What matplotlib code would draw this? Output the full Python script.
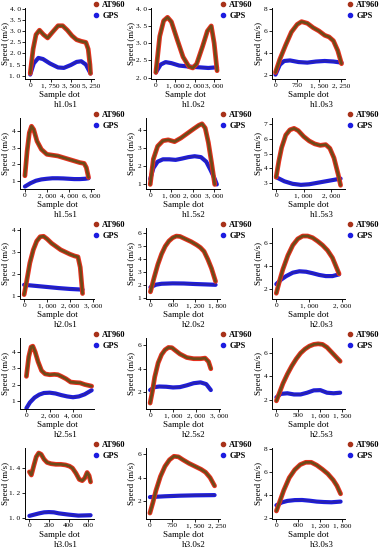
import matplotlib
matplotlib.use("Agg")
import matplotlib.pyplot as plt
from matplotlib.lines import Line2D
from matplotlib.ticker import FuncFormatter

plt.rcParams['font.family'] = ['Liberation Serif', 'DejaVu Serif']

# ---- data (x = sample dot, y = speed m/s) ----
titles = ["h1.0s1", "h1.0s2", "h1.0s3",
          "h1.5s1", "h1.5s2", "h1.5s3",
          "h2.0s1", "h2.0s2", "h2.0s3",
          "h2.5s1", "h2.5s2", "h2.5s3",
          "h3.0s1", "h3.0s2", "h3.0s3"]

at_x_h10s1 = [0, 250, 500, 800, 1150, 1500, 1900, 2400, 2800, 3200, 3600, 4000, 4400, 4800, 5000, 5150, 5200]
at_y_h10s1 = [1.1, 2.2, 2.85, 3.05, 2.85, 2.7, 2.95, 3.25, 3.25, 3.05, 2.8, 2.62, 2.55, 2.5, 2.2, 1.5, 1.1]
gps_x_h10s1 = [0, 300, 700, 1100, 1700, 2400, 2900, 3500, 4000, 4400, 4800, 5200]
gps_y_h10s1 = [1.05, 1.55, 1.8, 1.75, 1.55, 1.37, 1.35, 1.48, 1.62, 1.65, 1.5, 1.1]

at_x_h10s2 = [0, 200, 400, 600, 800, 1100, 1400, 1700, 1900, 2100, 2400, 2650, 2850, 3000, 3150]
at_y_h10s2 = [2.15, 3.2, 3.65, 3.75, 3.62, 3.1, 2.6, 2.32, 2.28, 2.4, 2.9, 3.35, 3.5, 3.0, 2.2]
gps_x_h10s2 = [0, 250, 500, 800, 1200, 1700, 2200, 2700, 3150]
gps_y_h10s2 = [2.15, 2.38, 2.45, 2.42, 2.35, 2.32, 2.3, 2.28, 2.3]

at_x_h10s3 = [0, 150, 350, 550, 750, 900, 1100, 1300, 1500, 1700, 1850, 2000, 2150, 2280]
at_y_h10s3 = [2.2, 3.4, 4.7, 5.9, 6.6, 6.85, 6.7, 6.3, 6.0, 5.6, 5.45, 5.1, 4.2, 3.0]
gps_x_h10s3 = [0, 150, 300, 500, 800, 1100, 1400, 1700, 2000, 2280]
gps_y_h10s3 = [2.0, 2.9, 3.25, 3.3, 3.15, 3.1, 3.2, 3.25, 3.2, 3.1]

at_x_h15s1 = [0, 200, 400, 600, 800, 1100, 1500, 2000, 2500, 3000, 3500, 4000, 4500, 5000, 5400, 5600, 5800]
at_y_h15s1 = [1.3, 2.8, 3.9, 4.3, 4.1, 3.4, 2.9, 2.6, 2.55, 2.5, 2.4, 2.3, 2.2, 2.1, 2.05, 1.8, 1.2]
gps_x_h15s1 = [0, 500, 1000, 1500, 2000, 2500, 3000, 3500, 4000, 4500, 5000, 5500, 5800]
gps_y_h15s1 = [0.65, 0.85, 1.0, 1.08, 1.12, 1.15, 1.15, 1.14, 1.12, 1.1, 1.1, 1.12, 1.15]

at_x_h15s2 = [0, 150, 350, 600, 850, 1150, 1450, 1750, 2050, 2300, 2450, 2600, 2750, 2900, 3050]
at_y_h15s2 = [1.0, 2.4, 3.1, 3.4, 3.45, 3.35, 3.55, 3.8, 4.05, 4.25, 4.33, 4.1, 3.3, 2.2, 1.0]
gps_x_h15s2 = [0, 150, 350, 600, 900, 1200, 1500, 1800, 2100, 2400, 2650, 2850, 3050, 3150]
gps_y_h15s2 = [1.3, 1.9, 2.25, 2.38, 2.38, 2.35, 2.42, 2.5, 2.55, 2.5, 2.25, 1.8, 1.3, 1.0]

at_x_h15s3 = [0, 100, 200, 350, 500, 650, 800, 1000, 1200, 1400, 1600, 1800, 1950, 2100, 2250, 2340]
at_y_h15s3 = [3.4, 4.5, 5.4, 6.25, 6.6, 6.7, 6.55, 6.15, 5.85, 5.65, 5.55, 5.6, 5.35, 4.7, 3.6, 2.85]
gps_x_h15s3 = [0, 300, 600, 900, 1200, 1500, 1800, 2100, 2340]
gps_y_h15s3 = [3.4, 3.12, 2.95, 2.88, 2.92, 3.02, 3.12, 3.22, 3.3]

at_x_h20s1 = [0, 100, 250, 400, 550, 700, 850, 1000, 1200, 1400, 1600, 1800, 2000, 2200, 2350, 2450, 2550]
at_y_h20s1 = [1.05, 1.6, 2.5, 3.1, 3.5, 3.7, 3.72, 3.6, 3.4, 3.25, 3.1, 3.0, 2.9, 2.82, 2.78, 2.3, 1.1]
gps_x_h20s1 = [0, 500, 1000, 1500, 2000, 2550]
gps_y_h20s1 = [1.5, 1.45, 1.4, 1.35, 1.31, 1.28]

at_x_h20s2 = [0, 100, 200, 300, 400, 500, 600, 700, 800, 950, 1100, 1250, 1350, 1450, 1550, 1650, 1760]
at_y_h20s2 = [1.5, 2.6, 3.6, 4.4, 5.0, 5.4, 5.65, 5.78, 5.75, 5.55, 5.35, 5.1, 4.9, 4.6, 4.0, 3.3, 2.3]
gps_x_h20s2 = [0, 150, 300, 600, 900, 1200, 1500, 1760]
gps_y_h20s2 = [1.85, 2.05, 2.12, 2.15, 2.14, 2.1, 2.07, 2.04]

at_x_h20s3 = [0, 100, 200, 350, 500, 650, 800, 950, 1100, 1250, 1400, 1550, 1700, 1800, 1900]
at_y_h20s3 = [1.6, 2.7, 3.7, 4.9, 5.8, 6.35, 6.6, 6.6, 6.45, 6.15, 5.8, 5.35, 4.7, 4.0, 3.3]
gps_x_h20s3 = [0, 150, 300, 500, 700, 900, 1100, 1300, 1500, 1700, 1900]
gps_y_h20s3 = [2.4, 2.8, 3.1, 3.4, 3.52, 3.48, 3.35, 3.2, 3.1, 3.1, 3.25]

at_x_h25s1 = [0, 200, 400, 550, 750, 1000, 1300, 1600, 2000, 2400, 2700, 3000, 3400, 3800, 4200, 4600, 5000, 5300, 5600]
at_y_h25s1 = [2.5, 3.7, 4.3, 4.35, 4.0, 3.4, 2.85, 2.65, 2.6, 2.62, 2.6, 2.5, 2.35, 2.15, 2.12, 2.1, 2.0, 1.95, 1.9]
gps_x_h25s1 = [0, 300, 700, 1100, 1500, 2000, 2500, 3000, 3500, 4000, 4500, 5000, 5600]
gps_y_h25s1 = [0.55, 0.9, 1.2, 1.38, 1.48, 1.5, 1.45, 1.35, 1.27, 1.22, 1.27, 1.4, 1.65]

at_x_h25s2 = [0, 100, 200, 350, 500, 650, 800, 950, 1100, 1300, 1600, 1900, 2200, 2400, 2550, 2650]
at_y_h25s2 = [1.1, 2.1, 3.3, 4.5, 5.2, 5.6, 5.8, 5.78, 5.55, 5.25, 4.95, 4.85, 4.85, 4.9, 4.6, 4.0]
gps_x_h25s2 = [0, 200, 400, 700, 1000, 1300, 1600, 1900, 2200, 2450, 2650]
gps_y_h25s2 = [2.2, 2.45, 2.5, 2.48, 2.42, 2.45, 2.6, 2.78, 2.85, 2.7, 2.2]

at_x_h25s3 = [0, 50, 150, 250, 350, 450, 550, 650, 750, 850, 950, 1050, 1150, 1250, 1350, 1450]
at_y_h25s3 = [1.9, 2.4, 3.4, 4.2, 4.9, 5.5, 6.0, 6.35, 6.6, 6.75, 6.8, 6.75, 6.5, 6.1, 5.7, 5.3]
gps_x_h25s3 = [0, 100, 250, 400, 550, 700, 850, 1000, 1150, 1300, 1450]
gps_y_h25s3 = [2.2, 2.5, 2.55, 2.45, 2.45, 2.6, 2.8, 2.82, 2.6, 2.55, 2.6]

at_x_h30s1 = [0, 20, 45, 70, 95, 120, 150, 180, 220, 270, 320, 370, 410, 440, 475, 510, 540, 565, 590, 610, 625]
at_y_h30s1 = [1.37, 1.345, 1.42, 1.49, 1.52, 1.51, 1.47, 1.445, 1.435, 1.43, 1.43, 1.425, 1.415, 1.4, 1.36, 1.31, 1.3, 1.32, 1.365, 1.34, 1.29]
gps_x_h30s1 = [0, 50, 100, 150, 200, 250, 300, 400, 500, 625]
gps_y_h30s1 = [1.02, 1.03, 1.04, 1.048, 1.05, 1.048, 1.04, 1.03, 1.022, 1.025]

at_x_h30s2 = [0, 100, 200, 350, 500, 650, 800, 950, 1100, 1300, 1500, 1700, 1850, 2000, 2150]
at_y_h30s2 = [1.0, 1.9, 2.9, 4.1, 4.95, 5.5, 5.8, 5.75, 5.5, 5.2, 4.95, 4.7, 4.45, 4.0, 3.3]
gps_x_h30s2 = [0, 500, 1000, 1500, 2150]
gps_y_h30s2 = [2.35, 2.42, 2.47, 2.5, 2.52]

at_x_h30s3 = [0, 100, 200, 350, 500, 650, 800, 950, 1100, 1250, 1400, 1550, 1650, 1750]
at_y_h30s3 = [2.6, 3.5, 4.4, 5.5, 6.2, 6.65, 6.85, 6.85, 6.6, 6.25, 5.85, 5.3, 4.8, 4.1]
gps_x_h30s3 = [0, 150, 300, 500, 700, 900, 1100, 1300, 1500, 1750]
gps_y_h30s3 = [3.1, 3.35, 3.48, 3.55, 3.56, 3.5, 3.42, 3.38, 3.36, 3.42]

x_ticks = [[0, 1750, 3500, 5250], [0, 1000, 2000, 3000], [0, 750, 1500, 2250],
           [0, 2000, 4000, 6000], [0, 1000, 2000, 3000], [0, 1000, 2000],
           [0, 1000, 2000, 3000], [0, 600, 1200, 1800], [0, 1000, 2000],
           [0, 2000, 4000], [0, 1000, 2000, 3000], [0, 500, 1000, 1500],
           [0, 200, 400, 600], [0, 750, 1500, 2250], [0, 600, 1200, 1800]]
y_ticks = [[1.0, 1.5, 2.0, 2.5, 3.0, 3.5, 4.0], [2.0, 2.5, 3.0, 3.5, 4.0], [2, 4, 6, 8],
           [1, 2, 3, 4], [1, 2, 3, 4], [3, 4, 5, 6, 7],
           [1, 2, 3, 4], [1, 2, 3, 4, 5, 6], [2, 4, 6],
           [1, 2, 3, 4], [2, 4, 6], [2, 4, 6],
           [1.0, 1.2, 1.4], [2, 4, 6], [2, 4, 6, 8]]
x_lims = [(-450, 5500), (-250, 3300), (-120, 2400),
          (-450, 6300), (-200, 3300), (-150, 2500),
          (-180, 3050), (-120, 1880), (-130, 2080),
          (-550, 5800), (-180, 3050), (-100, 1560),
          (-45, 660), (-130, 2330), (-120, 1870)]
y_lims = [(0.85, 4.05), (1.96, 4.02), (1.6, 8.1),
          (0.5, 4.8), (0.75, 4.65), (2.6, 7.4),
          (0.85, 4.1), (0.95, 6.4), (1.1, 7.3),
          (0.5, 4.85), (0.6, 6.6), (1.2, 7.3),
          (0.995, 1.56), (0.5, 6.5), (1.9, 8.1)]

at_x = [at_x_h10s1, at_x_h10s2, at_x_h10s3, at_x_h15s1, at_x_h15s2, at_x_h15s3,
        at_x_h20s1, at_x_h20s2, at_x_h20s3, at_x_h25s1, at_x_h25s2, at_x_h25s3,
        at_x_h30s1, at_x_h30s2, at_x_h30s3]
at_y = [at_y_h10s1, at_y_h10s2, at_y_h10s3, at_y_h15s1, at_y_h15s2, at_y_h15s3,
        at_y_h20s1, at_y_h20s2, at_y_h20s3, at_y_h25s1, at_y_h25s2, at_y_h25s3,
        at_y_h30s1, at_y_h30s2, at_y_h30s3]
gps_x = [gps_x_h10s1, gps_x_h10s2, gps_x_h10s3, gps_x_h15s1, gps_x_h15s2, gps_x_h15s3,
         gps_x_h20s1, gps_x_h20s2, gps_x_h20s3, gps_x_h25s1, gps_x_h25s2, gps_x_h25s3,
         gps_x_h30s1, gps_x_h30s2, gps_x_h30s3]
gps_y = [gps_y_h10s1, gps_y_h10s2, gps_y_h10s3, gps_y_h15s1, gps_y_h15s2, gps_y_h15s3,
         gps_y_h20s1, gps_y_h20s2, gps_y_h20s3, gps_y_h25s1, gps_y_h25s2, gps_y_h25s3,
         gps_y_h30s1, gps_y_h30s2, gps_y_h30s3]

# colours
red = '#e8301e'
brown = '#6e4a18'
blue = '#1c1ce0'
dark_blue = '#2a22a8'

W, H = 383, 550
fig = plt.figure(figsize=(W / 100, H / 100), dpi=100)

col_left = [20, 146, 272]
col_right = [94, 220, 345]
ax_h = 71


def fmt_x(v, pos):
    return f"{v:,.0f}".replace(",", ", ")


for i in range(15):
    r, c = divmod(i, 3)
    dec = any(t != int(t) for t in y_ticks[i])
    left = col_left[c] + (5 if dec else 0)
    ax_w = col_right[c] - left
    top = r * 110 + 8
    ax = fig.add_axes([left / W, 1 - (top + ax_h) / H, ax_w / W, ax_h / H])

    # AT960: red points under a brown smoothed line
    ax.plot(at_x[i], at_y[i], color=red, lw=3.4, solid_joinstyle='round', solid_capstyle='round', zorder=3)
    ax.plot(at_x[i], at_y[i], color=brown, lw=1.9, solid_joinstyle='round', solid_capstyle='round', zorder=4)
    # GPS
    ax.plot(gps_x[i], gps_y[i], color=blue, lw=3.0, solid_joinstyle='round', solid_capstyle='round', zorder=2)
    ax.plot(gps_x[i], gps_y[i], color=dark_blue, lw=1.2, solid_joinstyle='round', zorder=2)

    ax.set_xlim(x_lims[i])
    ax.set_ylim(y_lims[i])
    ax.set_xticks(x_ticks[i])
    ax.set_yticks(y_ticks[i])
    ax.xaxis.set_major_formatter(FuncFormatter(fmt_x))
    if dec:
        ax.yaxis.set_major_formatter(FuncFormatter(lambda v, p: f"{v:.1f}".replace(".", ". ")))
    else:
        ax.yaxis.set_major_formatter(FuncFormatter(lambda v, p: f"{v:.0f}"))
    ax.tick_params(labelsize=5.3, length=2, width=0.6, pad=1.2, colors='black')

    for s in ['top', 'right']:
        ax.spines[s].set_visible(False)
    for s in ['left', 'bottom']:
        ax.spines[s].set_linewidth(0.7)

    ax.set_xlabel("Sample dot", fontsize=6.5)
    ax.set_ylabel("Speed (m/s)", fontsize=6.5)
    ax.xaxis.set_label_coords(0.5, -0.17)
    ax.yaxis.set_label_coords((c * 126.5 + 10 - left) / ax_w, 0.5)

    fig.text((c * 127.67 + 66) / W, 1 - (r * 110 + 105) / H, titles[i],
             ha='center', va='center', fontsize=6.5)

    handles = [Line2D([0], [0], marker='o', ls='', color='#a8321a', markersize=3),
               Line2D([0], [0], marker='o', ls='', color=blue, markersize=3)]
    ax.legend(handles, ["AT960", "GPS"], loc='upper left',
              bbox_to_anchor=((c * 127 + 93) / W, 1 - (r * 110 + 1) / H),
              bbox_transform=fig.transFigure, frameon=False,
              prop=dict(weight='bold', size=6), handletextpad=0.3,
              labelspacing=0.35, borderpad=0, handlelength=0.8, borderaxespad=0)

fig.savefig("out.png", dpi=100)
